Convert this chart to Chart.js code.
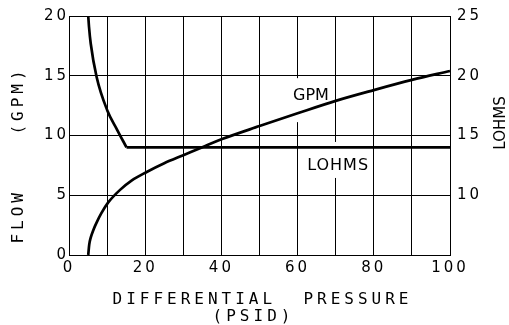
<!DOCTYPE html>
<html><head><meta charset="utf-8">
<script src="https://cdn.jsdelivr.net/npm/chart.js@4/dist/chart.umd.min.js"></script>
<style>html,body{margin:0;padding:0;background:#fff;overflow:hidden}</style>
</head><body>
<canvas id="c" width="509" height="325" style="width:509px;height:325px;display:block"></canvas>
<script>
// ---- data ----
const gpmPsid   = [5.05, 5.3, 5.7, 6.4, 7.3, 8.5, 10.3, 13.4, 16.5, 20.4, 25, 30, 35, 40, 50, 60, 70, 80, 90, 100];
const gpmFlow   = [0, 0.85, 1.45, 2.1, 2.75, 3.5, 4.4, 5.45, 6.25, 6.95, 7.68, 8.35, 9.02, 9.68, 10.79, 11.86, 12.9, 13.8, 14.65, 15.4];
// LOHMS: falling part, then the flat part
const lohmsPsid     = [5.05, 5.25, 5.7, 7.25, 10.05, 12.6, 15.1];
const lohmsVal      = [25, 24.1, 22.7, 19.9, 17.1, 15.5, 14.0];
const lohmsFlatPsid = [15.1, 100];
const lohmsFlatVal  = [14.0, 14.0];
const xLabelTicks = [0, 20, 40, 60, 80, 100];
const yLeftTicks  = [0, 5, 10, 15, 20];
const yRightTicks = [10, 15, 20, 25];

const TICK_FONT = {family: 'DejaVu Sans', size: 15};

const decor = {
  id: 'decor',
  beforeDraw(chart) { chart.ctx.letterSpacing = '3px'; },
  beforeDatasetsDraw(chart) {
    const ctx = chart.ctx, x = chart.scales.x, y = chart.scales.y;
    ctx.save();
    ctx.fillStyle = '#fff';
    // label backgrounds (hide grid lines behind the labels)
    ctx.fillRect(x.getPixelForValue(57.7), y.getPixelForValue(14.8), 45, 44);
    ctx.fillRect(x.getPixelForValue(61.7), y.getPixelForValue(9.46), 67, 36);
    ctx.fillStyle = '#000';
    ctx.font = '16px "DejaVu Sans"';
    ctx.textAlign = 'left';
    ctx.textBaseline = 'alphabetic';
    ctx.letterSpacing = '0px';
    ctx.fillText('GPM', x.getPixelForValue(58.8), y.getPixelForValue(12.97));
    ctx.letterSpacing = '1px';
    ctx.fillText('LOHMS', x.getPixelForValue(62.5), y.getPixelForValue(7.1));
    ctx.restore();
  },
  afterDraw(chart) {
    const ctx = chart.ctx, a = chart.chartArea;
    ctx.save();
    ctx.fillStyle = '#000';
    ctx.textBaseline = 'alphabetic';
    ctx.textAlign = 'center';
    ctx.font = '16px "DejaVu Sans Mono"';
    ctx.letterSpacing = '4px';
    const cx = (a.left + a.right) / 2;
    ctx.fillText('DIFFERENTIAL  PRESSURE', cx + 3, a.bottom + 49);
    ctx.fillText('(PSID)', cx - 6, a.bottom + 66);
    // left title
    ctx.save();
    ctx.translate(a.left - 46, a.top + 139);
    ctx.rotate(-Math.PI / 2);
    ctx.fillText('FLOW    (GPM)', 0, 0);
    ctx.restore();
    // right title
    ctx.save();
    ctx.font = '15px "DejaVu Sans"';
    ctx.letterSpacing = '0px';
    ctx.translate(a.right + 55, a.top + 107);
    ctx.rotate(-Math.PI / 2);
    ctx.fillText('LOHMS', 0, 0);
    ctx.restore();
    ctx.restore();
  }
};

const toPts = (xs, ys) => xs.map((v, i) => ({x: v, y: ys[i]}));
const lineStyle = {borderColor: '#000', borderWidth: 2.7, pointRadius: 0, fill: false,
                   cubicInterpolationMode: 'monotone', clip: false, borderCapStyle: 'butt', borderJoinStyle: 'miter'};

new Chart(document.getElementById('c'), {
  type: 'line',
  data: {
    datasets: [
      Object.assign({label: 'GPM', data: toPts(gpmPsid, gpmFlow), yAxisID: 'y'}, lineStyle),
      Object.assign({label: 'LOHMS', data: toPts(lohmsPsid, lohmsVal), yAxisID: 'y2'}, lineStyle),
      Object.assign({label: 'LOHMS flat', data: toPts(lohmsFlatPsid, lohmsFlatVal), yAxisID: 'y2'}, lineStyle)
    ]
  },
  options: {
    responsive: false,
    animation: false,
    devicePixelRatio: 1,
    layout: {padding: {top: 16, left: 0, right: 0, bottom: 0}},
    plugins: {legend: {display: false}, tooltip: {enabled: false}},
    scales: {
      x: {
        type: 'linear', position: 'bottom', min: 0, max: 100,
        ticks: {stepSize: 10, autoSkip: false, maxRotation: 0, color: '#000', font: TICK_FONT, padding: 4,
                callback: v => xLabelTicks.includes(v) ? String(v) : ''},
        grid: {color: '#000', lineWidth: 1, drawTicks: false},
        border: {color: '#000', width: 1},
        afterFit: s => { s.height = 70; }
      },
      y: {
        type: 'linear', position: 'left', min: 0, max: 20,
        ticks: {stepSize: 5, color: '#000', font: TICK_FONT, padding: 0,
                callback: v => yLeftTicks.includes(v) ? String(v) : ''},
        grid: {color: '#000', lineWidth: 1, drawTicks: false},
        border: {color: '#000', width: 1},
        afterFit: s => { s.width = 69; }
      },
      y2: {
        type: 'linear', position: 'right', min: 5, max: 25,
        ticks: {stepSize: 5, color: '#000', font: TICK_FONT, padding: 7,
                callback: v => yRightTicks.includes(v) ? String(v) : ''},
        grid: {display: false, drawTicks: false},
        border: {color: '#000', width: 1},
        afterFit: s => { s.width = 59; }
      }
    }
  },
  plugins: [decor]
});
</script>
</body></html>
